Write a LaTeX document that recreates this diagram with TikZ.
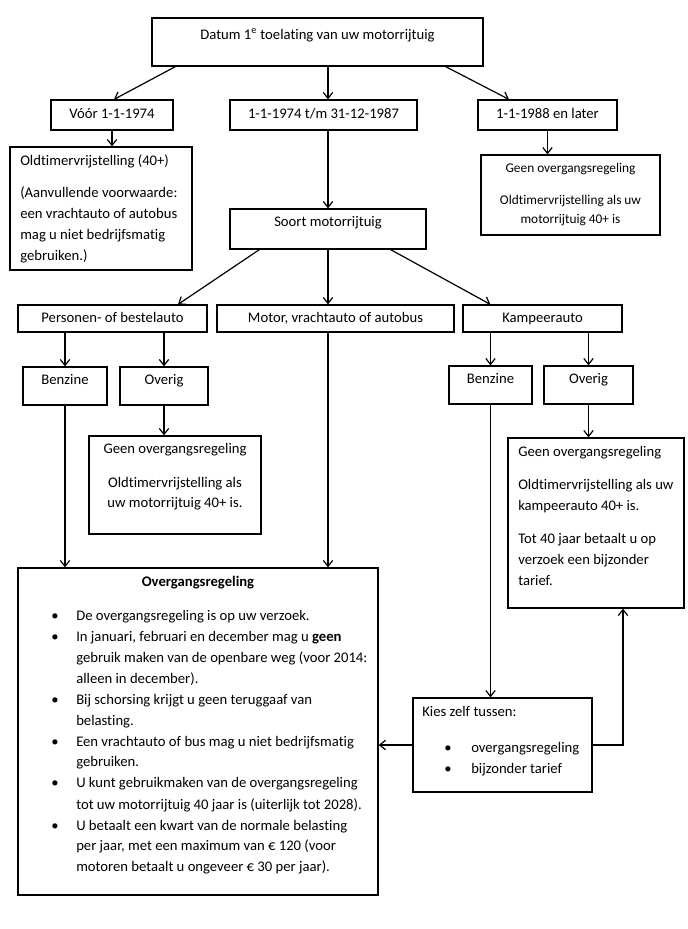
\documentclass[tikz,border=0pt]{standalone}
\usepackage{fontspec}
\setmainfont{Carlito}[Ligatures={NoCommon}]
\usetikzlibrary{arrows.meta,fit,calc}
\begin{document}
\begin{tikzpicture}[x=0.75pt,y=-0.75pt,
  box/.style={draw, line width=0.9pt, inner sep=0pt},
  arr/.style={line width=0.9pt, -{Straight Barb[length=4.5pt,width=7pt]}},
  ln/.style={line width=0.9pt},
  t/.style={inner sep=0pt, anchor=mid west, font=\fontsize{11}{13}\selectfont},
  c/.style={inner sep=0pt, anchor=mid, font=\fontsize{11}{13}\selectfont},
  cs/.style={inner sep=0pt, anchor=mid, font=\fontsize{10}{12}\selectfont},
  bul/.style={inner sep=0pt, anchor=mid, font=\fontsize{11}{13}\selectfont},
]
\useasboundingbox[fill=white] (0,0) rectangle (687,929);

% boxes
\node[box, fit={(152,18) (483,66)}] (top) {};
\node[box, fit={(51,100) (173,130)}] (voor) {};
\node[box, fit={(230,100) (417,130)}] (period) {};
\node[box, fit={(478,100) (617,130)}] (later) {};
\node[box, fit={(10,147) (192,270)}] (old) {};
\node[box, fit={(481,155) (660,235)}] (geenT) {};
\node[box, fit={(230,209) (426,249)}] (soort) {};
\node[box, fit={(18,305) (207,332)}] (pers) {};
\node[box, fit={(217,305) (454,332)}] (motor) {};
\node[box, fit={(463,305) (622,332)}] (kamp) {};
\node[box, fit={(23,367) (107,405)}] (benzL) {};
\node[box, fit={(120,367) (208,405)}] (overL) {};
\node[box, fit={(89,436) (261,534)}] (geenL) {};
\node[box, fit={(449,366) (532,404)}] (benzR) {};
\node[box, fit={(544,366) (633,404)}] (overR) {};
\node[box, fit={(508,438) (684,608)}] (geenR) {};
\node[box, fit={(18,568) (378,895)}] (og) {};
\node[box, fit={(413,698) (592,792)}] (kies) {};

% texts
\node[c] (tTop) at (317.5,36) {Datum 1\textsuperscript{e} toelating van uw motorrijtuig};
\node[c] (tVoor) at (112,115) {Vóór 1-1-1974};
\node[c] (tPeriod) at (323.5,115) {1-1-1974 t/m 31-12-1987};
\node[c] (tLater) at (547.5,115) {1-1-1988 en later};
\node[t] (tOld1) at (20,162) {Oldtimervrijstelling (40+)};
\node[t] (tOld2) at (20,194) {(Aanvullende voorwaarde:};
\node[t] (tOld3) at (20,215) {een vrachtauto of autobus};
\node[t] (tOld4) at (20,236) {mag u niet bedrijfsmatig};
\node[t] (tOld5) at (20,257) {gebruiken.)};
\node[cs] (tGT1) at (570.5,169) {Geen overgangsregeling};
\node[cs] (tGT2) at (570.5,201) {Oldtimervrijstelling als uw};
\node[cs] (tGT3) at (570.5,220) {motorrijtuig 40+ is};
\node[c] (tSoort) at (328,223) {Soort motorrijtuig};
\node[c] (tPers) at (112.5,319) {Personen- of bestelauto};
\node[c] (tMotor) at (335.5,319) {Motor, vrachtauto of autobus};
\node[c] (tKamp) at (542.5,319) {Kampeerauto};
\node[c] (tBenzL) at (65,381) {Benzine};
\node[c] (tOverL) at (164,381) {Overig};
\node[c] (tBenzR) at (490.5,380) {Benzine};
\node[c] (tOverR) at (588.5,380) {Overig};
\node[c] (tGL1) at (175,450) {Geen overgangsregeling};
\node[c] (tGL2) at (175,484) {Oldtimervrijstelling als};
\node[c] (tGL3) at (175,504) {uw motorrijtuig 40+ is.};
\node[t] (tGR1) at (518,453) {Geen overgangsregeling};
\node[t] (tGR2) at (518,486) {Oldtimervrijstelling als uw};
\node[t] (tGR3) at (518,507) {kampeerauto 40+ is.};
\node[t] (tGR4) at (518,540) {Tot 40 jaar betaalt u op};
\node[t] (tGR5) at (518,561) {verzoek een bijzonder};
\node[t] (tGR6) at (518,582) {tarief.};

\node[c, font=\fontsize{11}{13}\selectfont\bfseries] (tOG) at (198,583) {Overgangsregeling};
\node[bul] (b1) at (55,617) {\textbullet};
\node[t] (l1) at (76,617) {De overgangsregeling is op uw verzoek.};
\node[bul] (b2) at (55,638) {\textbullet};
\node[t] (l2) at (76,638) {In januari, februari en december mag u \textbf{geen}};
\node[t] (l3) at (76,659) {gebruik maken van de openbare weg (voor 2014:};
\node[t] (l4) at (76,680) {alleen in december).};
\node[bul] (b3) at (55,701) {\textbullet};
\node[t] (l5) at (76,701) {Bij schorsing krijgt u geen teruggaaf van};
\node[t] (l6) at (76,722) {belasting.};
\node[bul] (b4) at (55,743) {\textbullet};
\node[t] (l7) at (76,743) {Een vrachtauto of bus mag u niet bedrijfsmatig};
\node[t] (l8) at (76,763) {gebruiken.};
\node[bul] (b5) at (55,784) {\textbullet};
\node[t] (l9) at (76,784) {U kunt gebruikmaken van de overgangsregeling};
\node[t] (l10) at (76,806) {tot uw motorrijtuig 40 jaar is (uiterlijk tot 2028).};
\node[bul] (b6) at (55,827) {\textbullet};
\node[t] (l11) at (76,827) {U betaalt een kwart van de normale belasting};
\node[t] (l12) at (76,847) {per jaar, met een maximum van € 120 (voor};
\node[t] (l13) at (76,868) {motoren betaalt u ongeveer € 30 per jaar).};

\node[t] (tK1) at (422,713) {Kies zelf tussen:};
\node[bul] (kb1) at (448,749) {\textbullet};
\node[t] (tK2) at (471,749) {overgangsregeling};
\node[bul] (kb2) at (448,770) {\textbullet};
\node[t] (tK3) at (471,770) {bijzonder tarief};

% helper columns
\coordinate (xM) at (328,0);
\coordinate (xK) at (623,0);

% connectors
\draw[arr] ($(top.south west)+(24,0)$) -- ($(voor.north)+(2,0)$);
\draw[arr] (top.south -| xM) -- (period.north -| xM);
\draw[arr] ($(top.south east)+(-38,0)$) -- ($(later.north)+(-38.5,0)$);
\draw[arr] (voor.south) -- (voor.south |- old.north);
\draw[arr] (period.south -| xM) -- (soort.north -| xM);
\draw[arr] (later.south) -- (later.south |- geenT.north);
\draw[arr] ($(soort.south west)+(30,0)$) -- ($(pers.north)+(65.5,0)$);
\draw[arr] (soort.south -| xM) -- (motor.north -| xM);
\draw[arr] ($(soort.south east)+(-36,0)$) -- ($(kamp.north west)+(28,0)$);
\draw[arr] (pers.south -| benzL.north) -- (benzL.north);
\draw[arr] (pers.south -| overL.north) -- (overL.north);
\draw[arr] (overL.south) -- (overL.south |- geenL.north);
\draw[arr] (benzL.south) -- (benzL.south |- og.north);
\draw[arr] (motor.south -| xM) -- (og.north -| xM);
\draw[arr] (kamp.south -| benzR.north) -- (benzR.north);
\draw[arr] (kamp.south -| overR.north) -- (overR.north);
\draw[arr] (overR.south) -- (overR.south |- geenR.north);
\draw[arr] (benzR.south) -- (benzR.south |- kies.north);
\draw[arr] (kies.west) -- (kies.west -| og.east);
\draw[arr] (kies.east) -| (geenR.south -| xK);
\end{tikzpicture}
\end{document}
